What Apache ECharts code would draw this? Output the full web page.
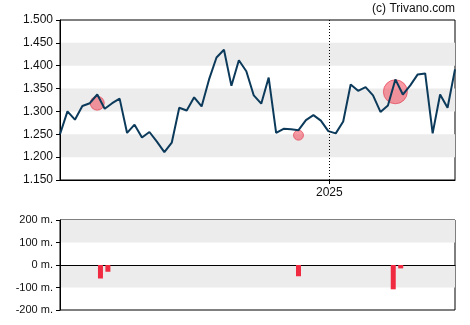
<!DOCTYPE html>
<html>
<head>
<meta charset="utf-8">
<script src="https://cdn.jsdelivr.net/npm/echarts@6/dist/echarts.min.js"></script>
<style>
  html, body { margin: 0; padding: 0; background: #fff; }
  #chart { width: 470px; height: 325px; }
</style>
</head>
<body>
<div id="chart"></div>
<script>
// Weekly closing prices
const startDate = '2024-04-23';
const prices = [
  1.250, 1.300, 1.282, 1.312, 1.318, 1.337, 1.306, 1.318, 1.328, 1.253,
  1.271, 1.243, 1.255, 1.234, 1.211, 1.232, 1.308, 1.302, 1.331, 1.311,
  1.370, 1.418, 1.435, 1.356, 1.412, 1.388, 1.335, 1.317, 1.374, 1.253,
  1.262, 1.261, 1.259, 1.281, 1.292, 1.280, 1.257, 1.252, 1.278, 1.359,
  1.345, 1.353, 1.335, 1.299, 1.313, 1.370, 1.337, 1.357, 1.381, 1.383,
  1.252, 1.337, 1.308, 1.392
];

// Transactions: date, price, marker diameter
const tradeDates = ['2024-05-28', '2024-12-03', '2025-03-04'];
const tradePrices = [1.318, 1.248, 1.343];
const tradeSizes = [14, 10, 24];

// Volumes (millions)
const volumeDates = ['2024-05-31', '2024-06-07', '2024-12-03', '2025-03-02', '2025-03-09'];
const volumeValues = [-60, -30, -50, -108, -15];

const yearMark = '2025-01-01';

function ts(iso) {
  const p = iso.split('-').map(Number);
  return Date.UTC(p[0], p[1] - 1, p[2]);
}
const DAY = 86400000;

const priceTimes = prices.map((_, i) => ts(startDate) + i * 7 * DAY);
const xMin = priceTimes[0];
const xMax = priceTimes[priceTimes.length - 1];
const yearTime = ts(yearMark);

const font = "'Liberation Sans', Arial, sans-serif";
const ink = '#111';

const chart = echarts.init(document.getElementById('chart'), null, { renderer: 'canvas' });
chart.setOption({
  animation: false,
  backgroundColor: '#fff',
  textStyle: { fontFamily: font },
  graphic: [{
    type: 'text', right: 15, top: 3,
    style: { text: '(c) Trivano.com', font: '12px ' + font, fill: ink }
  }],
  grid: [
    { left: 60, top: 20, right: 15, height: 160, show: true, borderColor: '#000', borderWidth: 1, backgroundColor: 'transparent' },
    { left: 60, top: 220, right: 15, height: 90, show: true, borderColor: '#000', borderWidth: 1, backgroundColor: 'transparent' }
  ],
  xAxis: [
    {
      type: 'value', gridIndex: 0, min: xMin, max: xMax,
      axisLine: { show: true, onZero: false, lineStyle: { color: '#000', width: 1 } },
      axisTick: { show: true, length: 4, lineStyle: { color: '#000' }, customValues: [yearTime] },
      axisLabel: {
        show: true, customValues: [yearTime], margin: 7,
        color: ink, fontSize: 12, fontFamily: font,
        formatter: v => String(new Date(v).getUTCFullYear())
      },
      splitLine: { show: false }
    },
    {
      type: 'value', gridIndex: 1, min: xMin, max: xMax,
      axisLine: { show: true, onZero: true, lineStyle: { color: '#000', width: 1 } },
      axisTick: { show: false },
      axisLabel: { show: false },
      splitLine: { show: false }
    }
  ],
  yAxis: [
    {
      type: 'value', gridIndex: 0, min: 1.15, max: 1.5, interval: 0.05,
      axisLine: { show: true, lineStyle: { color: '#000' } },
      axisTick: { show: true, length: 4, lineStyle: { color: '#000' } },
      axisLabel: { color: ink, fontSize: 12, fontFamily: font, margin: 7, formatter: v => v.toFixed(3) },
      splitLine: { show: false },
      splitArea: { show: true, areaStyle: { color: ['rgba(255,255,255,0)', '#ececec'] } }
    },
    {
      type: 'value', gridIndex: 1, min: -200, max: 200, interval: 100,
      axisLine: { show: true, lineStyle: { color: '#000' } },
      axisTick: { show: true, length: 4, lineStyle: { color: '#000' } },
      axisLabel: { color: ink, fontSize: 11, fontFamily: font, margin: 7, formatter: v => v + ' m.' },
      splitLine: { show: false },
      splitArea: { show: true, areaStyle: { color: ['rgba(255,255,255,0)', '#ececec'] } }
    }
  ],
  series: [
    {
      name: 'trades', type: 'scatter', xAxisIndex: 0, yAxisIndex: 0, z: 2,
      data: tradeDates.map((d, i) => ({ value: [ts(d), tradePrices[i]], symbolSize: tradeSizes[i] })),
      itemStyle: { color: 'rgba(240,45,65,0.6)', borderColor: 'rgba(225,40,60,0.7)', borderWidth: 1 }
    },
    {
      name: 'price', type: 'line', xAxisIndex: 0, yAxisIndex: 0, z: 3,
      data: priceTimes.map((t, i) => [t, prices[i]]),
      showSymbol: false, symbol: 'none',
      lineStyle: { color: '#0c3a5b', width: 2 },
      markLine: {
        silent: true, symbol: 'none', label: { show: false },
        lineStyle: { color: '#000', type: [1, 2], width: 1 },
        data: [{ xAxis: yearTime }]
      }
    },
    {
      name: 'volume', type: 'bar', xAxisIndex: 1, yAxisIndex: 1,
      data: volumeDates.map((d, i) => [ts(d), volumeValues[i]]),
      barWidth: 5,
      itemStyle: { color: '#f02a40' }
    }
  ]
});
</script>
</body>
</html>
